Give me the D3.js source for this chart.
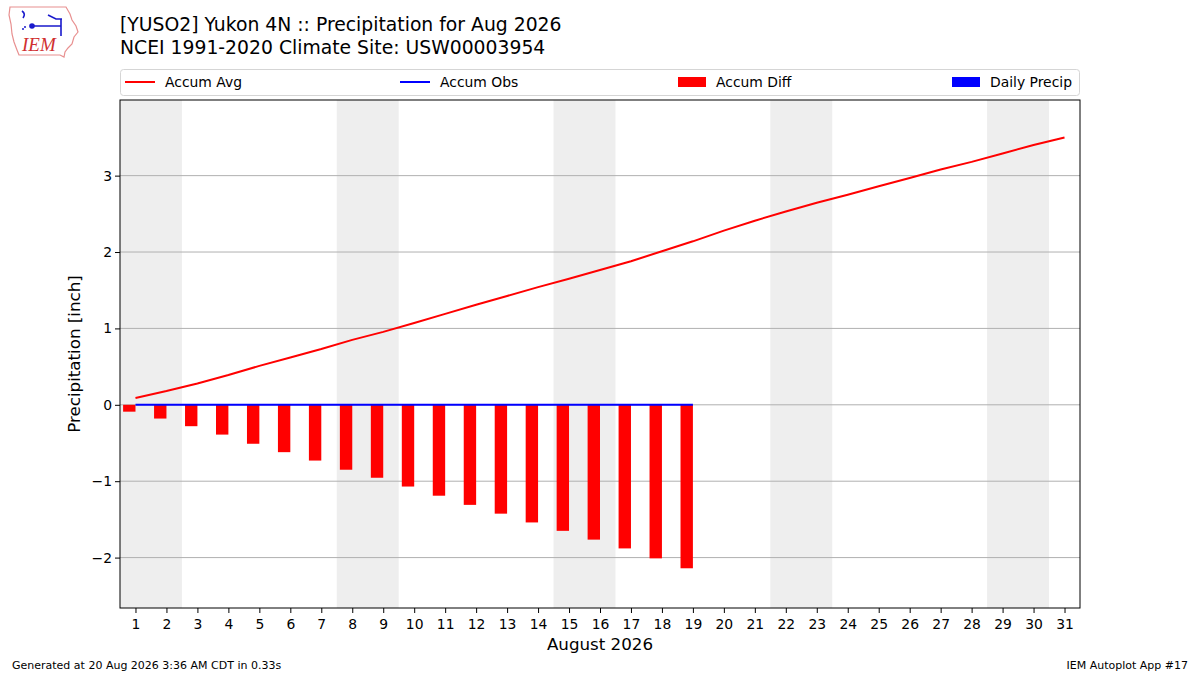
<!DOCTYPE html>
<html lang="en">
<head>
<meta charset="UTF-8">
<title>Precipitation for Aug 2026</title>
<script src="https://cdn.jsdelivr.net/npm/d3@7"></script>
<style>
  body { margin: 0; background: #fff; }
  text { font-family: "DejaVu Sans", sans-serif; }
</style>
</head>
<body>
<div id="container"></div>
<script>
// data
const days = d3.range(1, 32);
const obsDays = d3.range(1, 20);
const accumAvg = [0.09, 0.18, 0.28, 0.39, 0.51, 0.62, 0.73, 0.85, 0.955, 1.07,
                  1.19, 1.31, 1.425, 1.54, 1.65, 1.765, 1.88, 2.01, 2.14, 2.28,
                  2.41, 2.53, 2.645, 2.75, 2.86, 2.97, 3.08, 3.18, 3.29, 3.40, 3.50];
const accumObs = [0, 0, 0, 0, 0, 0, 0, 0, 0, 0, 0, 0, 0, 0, 0, 0, 0, 0, 0];
const accumDiff = [-0.09, -0.18, -0.28, -0.39, -0.51, -0.62, -0.73, -0.85, -0.955, -1.07,
                   -1.19, -1.31, -1.425, -1.54, -1.65, -1.765, -1.88, -2.01, -2.14];
const dailyPrecip = [0, 0, 0, 0, 0, 0, 0, 0, 0, 0, 0, 0, 0, 0, 0, 0, 0, 0, 0];
const weekendStarts = [1, 8, 15, 22, 29];
const yTicks = [-2, -1, 0, 1, 2, 3];
const legendItems = [
  { label: "Accum Avg", kind: "line", color: "red" },
  { label: "Accum Obs", kind: "line", color: "blue" },
  { label: "Accum Diff", kind: "patch", color: "red" },
  { label: "Daily Precip", kind: "patch", color: "blue" }
];

const W = 1200, H = 675;
const m = { left: 120, right: 1080, top: 100, bottom: 608 };

const svg = d3.select("#container").append("svg")
  .attr("width", W).attr("height", H)
  .style("display", "block");

const x = d3.scaleLinear().domain([0.5, 31.5]).range([m.left, m.right]);
const y = d3.scaleLinear().domain([-2.66, 3.99]).range([m.bottom, m.top]);

// weekend shading
svg.append("g").selectAll("rect").data(weekendStarts).join("rect")
  .attr("x", d => x(d - 0.5))
  .attr("width", d => x(d + 1.5) - x(d - 0.5))
  .attr("y", m.top).attr("height", m.bottom - m.top)
  .attr("fill", "#eeeeee");

// grid
svg.append("g").selectAll("line").data(yTicks).join("line")
  .attr("x1", m.left).attr("x2", m.right)
  .attr("y1", d => y(d)).attr("y2", d => y(d))
  .attr("stroke", "#b0b0b0").attr("stroke-width", 1);

// diff bars (left of each day)
const barW = x(0.4) - x(0);
svg.append("g").selectAll("rect").data(accumDiff).join("rect")
  .attr("x", (d, i) => x(obsDays[i]) - barW)
  .attr("width", barW)
  .attr("y", d => Math.min(y(d), y(0)))
  .attr("height", d => Math.abs(y(d) - y(0)))
  .attr("fill", "red");

// daily precip bars (right of each day)
svg.append("g").selectAll("rect").data(dailyPrecip).join("rect")
  .attr("x", (d, i) => x(obsDays[i]))
  .attr("width", barW)
  .attr("y", d => y(d))
  .attr("height", d => y(0) - y(d))
  .attr("fill", "blue");

const line = d3.line().x(d => x(d[0])).y(d => y(d[1]));

svg.append("path")
  .datum(days.map((d, i) => [d, accumAvg[i]]))
  .attr("d", line)
  .attr("fill", "none").attr("stroke", "red").attr("stroke-width", 2);

svg.append("path")
  .datum(obsDays.map((d, i) => [d, accumObs[i]]))
  .attr("d", line)
  .attr("fill", "none").attr("stroke", "blue").attr("stroke-width", 2);

// axes
const xAxis = svg.append("g")
  .attr("transform", "translate(0," + m.bottom + ")")
  .call(d3.axisBottom(x).tickValues(days).tickFormat(d3.format("d")).tickSize(5).tickSizeOuter(0));
const yAxis = svg.append("g")
  .attr("transform", "translate(" + m.left + ",0)")
  .call(d3.axisLeft(y).tickValues(yTicks).tickFormat(d => d < 0 ? "\u2212" + Math.abs(d) : d).tickSize(5).tickSizeOuter(0));
[xAxis, yAxis].forEach(g => {
  g.select(".domain").remove();
  g.selectAll("text").attr("font-size", 13.9).attr("fill", "#000")
    .style("font-family", "DejaVu Sans, sans-serif");
  g.selectAll("line").attr("stroke", "#000");
});
xAxis.selectAll("text").attr("dy", "0.95em");
yAxis.selectAll("text").attr("x", -8);

// frame
svg.append("rect")
  .attr("x", m.left).attr("y", m.top)
  .attr("width", m.right - m.left).attr("height", m.bottom - m.top)
  .attr("fill", "none").attr("stroke", "#000").attr("stroke-width", 1);

// axis labels
svg.append("text")
  .attr("x", (m.left + m.right) / 2).attr("y", 650)
  .attr("text-anchor", "middle").attr("font-size", 16.7)
  .text("August 2026");
svg.append("text")
  .attr("transform", "translate(80," + (m.top + m.bottom) / 2 + ") rotate(-90)")
  .attr("text-anchor", "middle").attr("font-size", 16.7)
  .text("Precipitation [inch]");

// titles
svg.append("text").attr("x", 120).attr("y", 31).attr("font-size", 18.8)
  .text("[YUSO2] Yukon 4N :: Precipitation for Aug 2026");
svg.append("text").attr("x", 120).attr("y", 54).attr("font-size", 18.8)
  .text("NCEI 1991-2020 Climate Site: USW00003954");

// legend
svg.append("rect")
  .attr("x", 120.5).attr("y", 69.5).attr("width", 959).attr("height", 26)
  .attr("rx", 3).attr("fill", "#fff").attr("stroke", "#d5d5d5");
const legendX = [125, 400, 678, 952];
const lg = svg.append("g").selectAll("g").data(legendItems).join("g")
  .attr("transform", (d, i) => "translate(" + legendX[i] + ",82)");
lg.filter(d => d.kind === "line").append("line")
  .attr("x1", 0).attr("x2", 30).attr("stroke", d => d.color).attr("stroke-width", 2);
lg.filter(d => d.kind === "patch").append("rect")
  .attr("x", 0).attr("y", -5).attr("width", 28).attr("height", 10).attr("fill", d => d.color);
lg.append("text")
  .attr("x", (d) => d.kind === "line" ? 40 : 38).attr("y", 5)
  .attr("font-size", 13.9).text(d => d.label);

// footer
svg.append("text").attr("x", 12).attr("y", 669).attr("font-size", 11)
  .text("Generated at 20 Aug 2026 3:36 AM CDT in 0.33s");
svg.append("text").attr("x", 1188).attr("y", 669).attr("font-size", 11)
  .attr("text-anchor", "end").text("IEM Autoplot App #17");

// rough IEM logo
const logo = svg.append("g");
logo.append("path")
  .attr("d", "M10,7 L66,7 L70,14 L72,20 L76,26 L78,32 L74,37 L72,44 L68,48 L65,52 L64,57 L60,55 L19,55 L17,50 L14,42 L12,34 L11,24 L9,15 Z")
  .attr("fill", "#fff").attr("stroke", "#e89090").attr("stroke-width", 1.2);
logo.append("path")
  .attr("d", "M22,11 Q26,14 23,18 M32,26 L61,26 M61,19 L61,36 M48,15 L56,19 L62,19")
  .attr("fill", "none").attr("stroke", "#1a1acc").attr("stroke-width", 1.6);
logo.append("circle").attr("cx", 32).attr("cy", 26).attr("r", 2.8).attr("fill", "#1a1acc");
logo.append("circle").attr("cx", 25).attr("cy", 27).attr("r", 1).attr("fill", "#1a1acc");
logo.append("circle").attr("cx", 23).attr("cy", 29).attr("r", 1).attr("fill", "#1a1acc");
logo.append("text").attr("x", 22).attr("y", 51)
  .attr("font-size", 19).attr("font-style", "italic")
  .style("font-family", "Liberation Serif, serif")
  .attr("fill", "#d03030").text("IEM");
</script>
</body>
</html>
